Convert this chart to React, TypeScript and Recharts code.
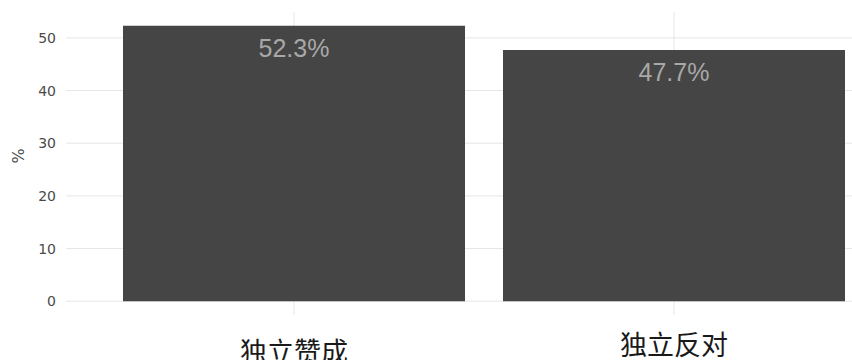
import { BarChart, Bar, XAxis, YAxis, CartesianGrid, LabelList } from "recharts";

const categories = ["独立赞成", "独立反对"];
const shares = [52.3, 47.7];
const yTicks = [0, 10, 20, 30, 40, 50];

const data = categories.map((name, i) => ({ name, value: shares[i] }));

const CategoryTick = (props: any) => {
  const { x, y, payload, index } = props;
  // the first label sits a little lower than the second one in the reference
  const dy = index === 0 ? 45 : 38;
  return (
    <text
      x={x}
      y={y + dy}
      textAnchor="middle"
      fill="#1a1a1a"
      fontSize={27}
      fontFamily="'Noto Sans CJK SC', sans-serif"
    >
      {payload.value}
    </text>
  );
};

const App = () => {
  return (
    <div style={{ position: "absolute", left: 0, top: 0, width: 852, height: 360, overflow: "hidden", background: "#fff" }}>
      <BarChart
        width={902}
        height={360}
        data={data}
        margin={{ top: 12, right: 0, left: 0, bottom: 0 }}
        barSize={342}
      >
        <CartesianGrid stroke="#e6e6e6" vertical={false} horizontalValues={yTicks} />
        <CartesianGrid stroke="#e6e6e6" horizontal={false} verticalValues={categories as any} />
        <XAxis
          dataKey="name"
          height={45}
          padding={{ left: 38, right: 38 }}
          axisLine={false}
          tickLine={false}
          tickSize={0}
          interval={0}
          tick={<CategoryTick />}
        />
        <YAxis
          width={66}
          type="number"
          domain={[-2.615, 54.915]}
          allowDataOverflow
          ticks={yTicks}
          axisLine={false}
          tickLine={false}
          tickSize={0}
          tickMargin={10}
          tick={{ fill: "#4a4a4a", fontSize: 14, fontFamily: "'DejaVu Sans', sans-serif" }}
          label={{
            value: "%",
            angle: -90,
            position: "insideLeft",
            offset: 18,
            fill: "#4a4a4a",
            fontSize: 16,
            fontFamily: "'DejaVu Sans', sans-serif",
          }}
        />
        <Bar dataKey="value" fill="#454545" isAnimationActive={false}>
          <LabelList
            dataKey="value"
            position="insideTop"
            offset={13}
            formatter={(v: any) => `${v}%`}
            fill="#a8a8a8"
            fontSize={25}
            fontFamily="'Liberation Sans', Arial, sans-serif"
          />
        </Bar>
      </BarChart>
    </div>
  );
};

export default App;
